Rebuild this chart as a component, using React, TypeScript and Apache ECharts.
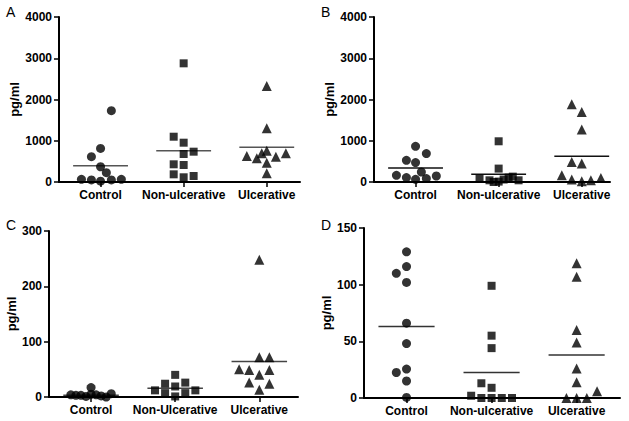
import React, { useEffect, useRef } from "react";
import * as echarts from "echarts";

// ---------- data ----------
const catsA = ["Control", "Non-ulcerative", "Ulcerative"];
const catsC = ["Control", "Non-Ulcerative", "Ulcerative"];

// Panel A
const controlA = [1730, 815, 615, 370, 225, 65, 50, 20, 50, 65];
const controlAx = [0.13, 0, -0.11, 0, 0.07, -0.23, -0.11, 0, 0.13, 0.25];
const nonA = [2877, 1098, 953, 735, 679, 429, 412, 186, 145, 114];
const nonAx = [0, -0.12, 0, 0.12, 0, -0.12, 0, -0.12, 0.12, 0];
const ulcA = [2327, 1302, 759, 695, 695, 630, 614, 574, 468, 210];
const ulcAx = [0, 0, 0, -0.06, 0.23, -0.24, 0.11, -0.12, 0, 0];
const meanA = [395, 759, 841];

// Panel B
const controlB = [865, 688, 526, 470, 242, 162, 107, 65, 82, 145];
const controlBx = [0, 0.13, -0.11, 0, 0.07, -0.23, -0.11, 0, 0.13, 0.25];
const nonB = [987, 325, 82, 41, 10, 107, 130, 41, 60, 0];
const nonBx = [0, 0, -0.23, -0.11, 0, 0.12, 0.17, 0.24, 0.06, -0.06];
const ulcB = [1884, 1697, 1270, 485, 446, 162, 58, 17, 41, 97];
const ulcBx = [-0.12, 0, 0, -0.12, 0, -0.24, -0.12, 0, 0.11, 0.23];
const meanB = [340, 187, 623];

// Panel C
const controlC = [17, 4, 3, 5, 2, 6, 3, 1, 4, 0];
const controlCx = [0, -0.24, -0.12, 0, 0.12, 0.24, -0.18, -0.06, 0.06, 0.18];
const nonC = [40, 24, 26, 19, 12, 12, 7, 7, 1];
const nonCx = [0, -0.12, 0.12, 0, -0.24, 0.24, -0.12, 0.12, 0];
const ulcC = [248, 72, 72, 50, 49, 49, 40, 26, 24, 13];
const ulcCx = [0, 0, 0.12, -0.24, -0.12, 0.12, 0, -0.12, 0.12, 0];
const meanC = [3, 16, 64];

// Panel D
const controlD = [129, 116, 110, 102, 66, 48, 25.5, 22.5, 15, 0.5];
const controlDx = [0, 0, -0.12, 0, 0, 0, 0, -0.12, 0, 0];
const nonD = [99, 55, 44, 13, 9, 2, 0, 0, 0, 0];
const nonDx = [0, 0, 0, -0.12, 0, -0.24, -0.12, 0, 0.12, 0.24];
const ulcD = [119, 107, 60, 49, 26, 14, 6, 0, 0, 0];
const ulcDx = [0, 0, 0, 0, 0, 0, 0.24, -0.12, 0, 0.12];
const meanD = [63, 22.5, 38];

const FONT = "Liberation Sans, Arial, sans-serif";

type Panel = {
  letter: string;
  cats: string[];
  groups: { vals: number[]; xs: number[] }[];
  means: number[];
  yMax: number;
  yInterval: number;
  grid: { left: number; top: number; width: number; height: number };
  xMax: number;
  meanColor: string;
  letterPos: [number, number];
  nameGap: number;
};

const panels: Panel[] = [
  {
    letter: "A",
    cats: catsA,
    groups: [
      { vals: controlA, xs: controlAx },
      { vals: nonA, xs: nonAx },
      { vals: ulcA, xs: ulcAx },
    ],
    means: meanA,
    yMax: 4000,
    yInterval: 1000,
    grid: { left: 59, top: 17, width: 241, height: 165 },
    xMax: 2.4,
    meanColor: "#555",
    letterPos: [6, 5],
    nameGap: 38,
  },
  {
    letter: "B",
    cats: catsA,
    groups: [
      { vals: controlB, xs: controlBx },
      { vals: nonB, xs: nonBx },
      { vals: ulcB, xs: ulcBx },
    ],
    means: meanB,
    yMax: 4000,
    yInterval: 1000,
    grid: { left: 374, top: 17, width: 236, height: 165 },
    xMax: 2.34,
    meanColor: "#111",
    letterPos: [321, 5],
    nameGap: 38,
  },
  {
    letter: "C",
    cats: catsC,
    groups: [
      { vals: controlC, xs: controlCx },
      { vals: nonC, xs: nonCx },
      { vals: ulcC, xs: ulcCx },
    ],
    means: meanC,
    yMax: 300,
    yInterval: 100,
    grid: { left: 49, top: 231, width: 249, height: 166 },
    xMax: 2.46,
    meanColor: "#444",
    letterPos: [6, 218],
    nameGap: 30,
  },
  {
    letter: "D",
    cats: catsA,
    groups: [
      { vals: controlD, xs: controlDx },
      { vals: nonD, xs: nonDx },
      { vals: ulcD, xs: ulcDx },
    ],
    means: meanD,
    yMax: 150,
    yInterval: 50,
    grid: { left: 364, top: 228, width: 256, height: 170 },
    xMax: 2.51,
    meanColor: "#333",
    letterPos: [321, 218],
    nameGap: 30,
  },
];

const symbols = ["circle", "rect", "triangle"];
const symbolSizes = [9, 8, 10];

function buildOption() {
  const grid: any[] = [];
  const xAxis: any[] = [];
  const yAxis: any[] = [];
  const series: any[] = [];
  const graphic: any[] = [];

  panels.forEach((p, pi) => {
    grid.push({ ...p.grid });
    const cats = p.cats;
    xAxis.push({
      type: "value",
      gridIndex: pi,
      min: -0.5,
      max: p.xMax,
      splitLine: { show: false },
      axisLine: { show: true, onZero: false, lineStyle: { color: "#000", width: 2 } },
      axisTick: {
        show: true,
        customValues: [0, 1, 2],
        length: 5,
        lineStyle: { color: "#000", width: 1.5 },
      },
      axisLabel: {
        show: true,
        customValues: [0, 1, 2],
        formatter: (v: number) => cats[Math.round(v)] ?? "",
        color: "#000",
        fontFamily: FONT,
        fontWeight: "bold",
        fontSize: 12,
        margin: 7,
      },
    });
    yAxis.push({
      type: "value",
      gridIndex: pi,
      min: 0,
      max: p.yMax,
      interval: p.yInterval,
      splitLine: { show: false },
      axisLine: { show: true, onZero: false, lineStyle: { color: "#000", width: 2 } },
      axisTick: { show: true, length: 5, lineStyle: { color: "#000", width: 1.5 } },
      axisLabel: {
        color: "#000",
        fontFamily: FONT,
        fontWeight: "bold",
        fontSize: 12,
        margin: 7,
        formatter: (v: number) => String(v),
      },
      name: "pg/ml",
      nameLocation: "middle",
      nameRotate: 90,
      nameGap: p.nameGap,
      nameTextStyle: {
        color: "#000",
        fontFamily: FONT,
        fontWeight: "bold",
        fontSize: 13,
      },
    });

    p.groups.forEach((g, gi) => {
      series.push({
        type: "scatter",
        xAxisIndex: pi,
        yAxisIndex: pi,
        symbol: symbols[gi],
        symbolSize: symbolSizes[gi],
        clip: false,
        itemStyle: { color: "#000" },
        data: g.vals.map((v, i) => [gi + g.xs[i], v]),
        z: 3,
      });
      series.push({
        type: "line",
        xAxisIndex: pi,
        yAxisIndex: pi,
        symbol: "none",
        lineStyle: { color: p.meanColor, width: 1.5 },
        data: [
          [gi - 0.33, p.means[gi]],
          [gi + 0.33, p.means[gi]],
        ],
        z: 2,
      });
    });

    graphic.push({
      type: "text",
      left: p.letterPos[0],
      top: p.letterPos[1],
      style: {
        text: p.letter,
        fontFamily: FONT,
        fontSize: 14,
        fill: "#000",
      },
    });
  });

  return {
    animation: false,
    backgroundColor: "#fff",
    grid,
    xAxis,
    yAxis,
    series,
    graphic,
  };
}

export default function App() {
  const ref = useRef<HTMLDivElement>(null);
  useEffect(() => {
    if (!ref.current) return;
    const chart = echarts.init(ref.current, undefined, { renderer: "svg" });
    chart.setOption(buildOption());
    return () => chart.dispose();
  }, []);
  return (
    <div
      ref={ref}
      style={{ position: "fixed", left: 0, top: 0, width: 629, height: 421, background: "#fff" }}
    />
  );
}
